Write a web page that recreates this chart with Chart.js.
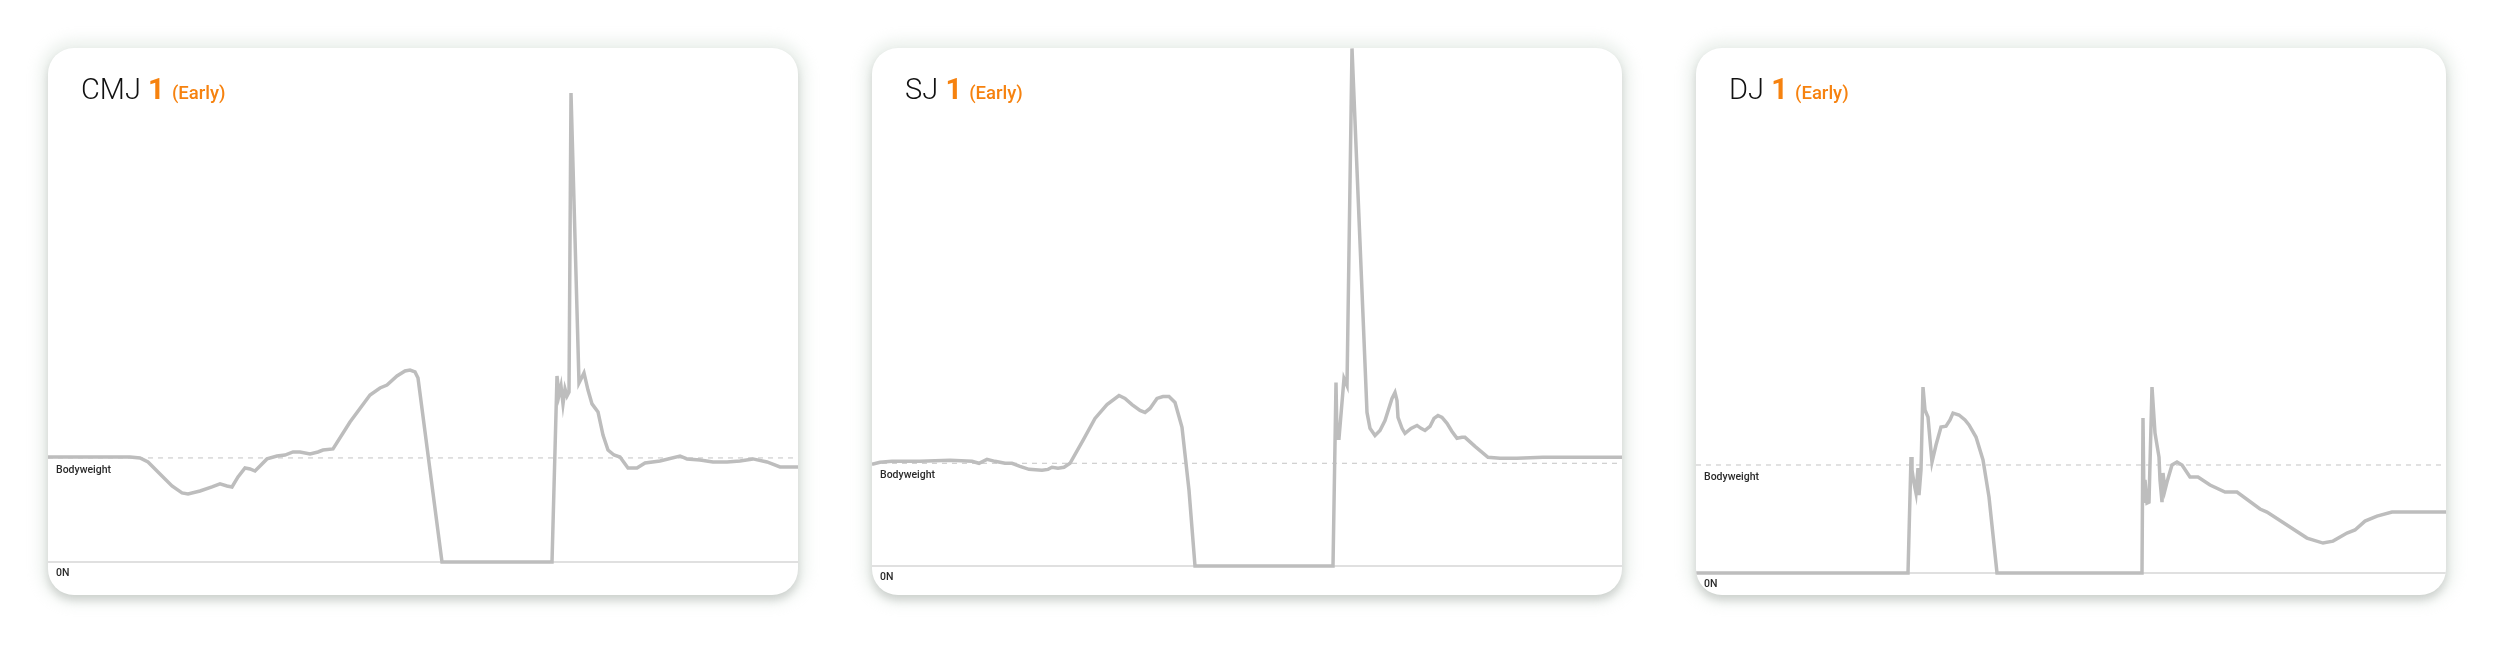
<!DOCTYPE html>
<html>
<head>
<meta charset="utf-8">
<script src="https://cdn.jsdelivr.net/npm/chart.js@4.4.1/dist/chart.umd.min.js"></script>
<style>
  html, body { margin: 0; padding: 0; background: #fff; }
  body { width: 2500px; height: 665px; position: relative; overflow: hidden; font-family: Roboto, sans-serif; }
  .card {
    position: absolute; top: 48px; width: 750px; height: 547px;
    background: #fff; border-radius: 26px; overflow: hidden;
    box-shadow: 0 5px 9px rgba(0,0,0,0.14), 0 0 14px 8px rgba(226,234,228,0.65);
  }
  .plot { position: absolute; left: 0; top: 0; width: 750px; height: 547px; }
  .title {
    position: absolute; left: 33px; top: 27px; z-index: 2;
    font-size: 29px; line-height: 29px; white-space: nowrap; color: #111;
  }
  .title .name { font-weight: 300; }
  .title .num { color: #f6820f; font-weight: 700; }
  .title .tag { color: #f6820f; font-weight: 500; font-size: 18.5px; }
</style>
</head>
<body>
<div class="card" style="left:48px">
  <div class="title"><span class="name">CMJ</span> <span class="num">1</span> <span class="tag">(Early)</span></div>
  <div class="plot"><canvas id="chart0"></canvas></div>
</div>
<div class="card" style="left:872px">
  <div class="title"><span class="name">SJ</span> <span class="num">1</span> <span class="tag">(Early)</span></div>
  <div class="plot"><canvas id="chart1"></canvas></div>
</div>
<div class="card" style="left:1696px">
  <div class="title"><span class="name">DJ</span> <span class="num">1</span> <span class="tag">(Early)</span></div>
  <div class="plot"><canvas id="chart2"></canvas></div>
</div>

<script>
// time in ms, force in N
const cmjTime = [0,208,328,368,400,448,496,536,560,608,656,688,716,736,760,788,808,828,848,876,916,948,980,1008,1048,1080,1100,1140,1208,1288,1328,1356,1396,1428,1448,1468,1480,1576,2008,2016,2036,2044,2052,2060,2068,2076,2084,2092,2124,2144,2160,2176,2200,2220,2240,2264,2288,2320,2356,2388,2448,2528,2556,2608,2660,2716,2768,2820,2876,2928,3000];
const cmjForce = [756,756,756,749,720,634,547,497,490,511,540,562,547,540,612,677,670,655,691,742,763,770,792,792,778,792,806,814,1008,1202,1253,1274,1339,1375,1382,1368,1325,0,0,0,1339,1202,1267,1138,1246,1195,1224,3377,1289,1361,1238,1138,1080,914,806,770,756,677,677,713,727,763,742,734,720,720,727,742,720,684,684];

const sjTime = [0,32,80,192,312,400,428,460,492,532,560,592,628,680,704,720,744,768,792,844,892,940,988,1012,1040,1072,1092,1112,1140,1164,1188,1212,1240,1268,1292,1844,1856,1860,1868,1888,1900,1920,1980,1992,2012,2032,2052,2080,2092,2100,2104,2120,2132,2156,2180,2196,2212,2232,2248,2264,2280,2300,2320,2340,2360,2372,2412,2464,2512,2580,2684,2832,3000];
const sjForce = [734,749,756,756,763,756,742,770,756,742,742,720,698,691,698,713,706,713,742,907,1066,1166,1231,1210,1166,1123,1109,1138,1210,1224,1224,1181,1001,547,0,0,1325,922,922,1354,1303,3737,1109,994,943,979,1051,1210,1253,1195,1073,994,958,994,1015,994,979,1008,1066,1087,1073,1030,972,922,929,929,864,785,778,778,785,785,785];

const djTime = [0,848,860,864,872,880,888,892,900,908,916,928,936,944,960,980,1000,1016,1028,1052,1076,1092,1120,1148,1172,1204,1784,1788,1792,1796,1804,1812,1824,1836,1852,1856,1864,1868,1876,1884,1904,1924,1944,1976,2008,2056,2116,2164,2256,2284,2444,2508,2548,2604,2636,2676,2724,2784,3000];
const djForce = [0,0,835,742,648,576,756,562,742,1339,1174,1123,958,799,922,1051,1058,1102,1152,1138,1102,1066,979,814,547,0,0,1116,504,670,504,511,1339,1008,835,670,511,720,598,655,778,799,778,691,691,634,583,583,461,439,252,216,230,288,310,374,410,439,439];

const bodyweights = [749, 742, 778];
const bodyweightLabel = 'Bodyweight';
const zeroLabel = '0N';

const refLines = {
  id: 'refLines',
  beforeDatasetsDraw(chart, args, opts) {
    const { ctx, chartArea, scales: { y } } = chart;
    const y0 = y.getPixelForValue(0);
    const yb = y.getPixelForValue(opts.bodyweight);
    ctx.save();
    ctx.strokeStyle = '#d6d6d6';
    ctx.lineWidth = 1.5;
    ctx.beginPath();
    ctx.moveTo(chartArea.left, y0);
    ctx.lineTo(chartArea.right, y0);
    ctx.stroke();
    ctx.setLineDash([5, 5]);
    ctx.strokeStyle = '#c4c4c4';
    ctx.lineWidth = 1;
    ctx.beginPath();
    ctx.moveTo(chartArea.left, yb);
    ctx.lineTo(chartArea.right, yb);
    ctx.stroke();
    ctx.setLineDash([]);
    ctx.fillStyle = '#2a2a2a';
    ctx.font = '500 10.5px Roboto';
    ctx.textBaseline = 'top';
    ctx.fillText(bodyweightLabel, chartArea.left + 8, yb + 7);
    ctx.fillText(zeroLabel, chartArea.left + 8, y0 + 6);
    ctx.restore();
  }
};

function makeChart(id, time, force, bodyweight, yMin, yMax) {
  new Chart(document.getElementById(id), {
    type: 'line',
    data: {
      datasets: [{
        data: time.map((t, i) => ({ x: t, y: force[i] })),
        borderColor: '#bdbdbd',
        borderWidth: 3.5,
        pointRadius: 0,
        tension: 0,
        fill: false
      }]
    },
    options: {
      responsive: true,
      maintainAspectRatio: false,
      animation: false,
      layout: { padding: 0 },
      plugins: {
        legend: { display: false },
        tooltip: { enabled: false },
        refLines: { bodyweight }
      },
      scales: {
        x: { type: 'linear', display: false, min: 0, max: 3000 },
        y: { display: false, min: yMin, max: yMax }
      }
    },
    plugins: [refLines]
  });
}

makeChart('chart0', cmjTime, cmjForce, bodyweights[0], -238, 3701);
makeChart('chart1', sjTime, sjForce, bodyweights[1], -209, 3740);
makeChart('chart2', djTime, djForce, bodyweights[2], -158, 3780);
</script>
</body>
</html>
